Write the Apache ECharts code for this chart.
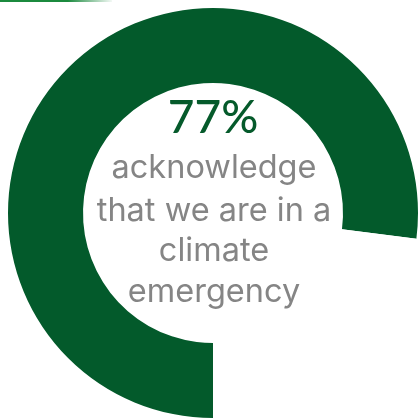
<!DOCTYPE html>
<html>
<head>
<meta charset="utf-8">
<script src="https://cdn.jsdelivr.net/npm/echarts@6/dist/echarts.min.js"></script>
<style>
html,body{margin:0;padding:0;background:#fff;}
#chart{width:420px;height:420px;}
</style>
</head>
<body>
<div id="chart"></div>
<script>
var categories = ['Acknowledge climate emergency', 'Other'];
var values = [77, 23];
var headline = '77%';
var captionLines = ['acknowledge', 'that we are in a', 'climate', 'emergency'];

var chart = echarts.init(document.getElementById('chart'), null, {renderer: 'canvas'});

var captionY = [168, 211, 251, 292];
var graphics = [
  {
    type: 'line',
    shape: {x1: 0, y1: 1, x2: 112, y2: 1},
    style: {
      lineWidth: 2,
      stroke: new echarts.graphic.LinearGradient(0, 0, 1, 0, [
        {offset: 0, color: '#1b8a3e'},
        {offset: 0.6, color: '#1b8a3e'},
        {offset: 1, color: 'rgba(27,138,62,0)'}
      ])
    },
    silent: true
  },
  {
    type: 'text',
    x: 213, y: 118,
    style: {
      text: headline,
      font: '500 46px Lato',
      fill: '#055a2b',
      align: 'center',
      verticalAlign: 'middle'
    },
    z: 10
  }
];
captionLines.forEach(function (t, i) {
  graphics.push({
    type: 'text',
    x: 214, y: captionY[i],
    style: {
      text: t,
      font: '400 32.5px Inter',
      fill: '#858585',
      align: 'center',
      verticalAlign: 'middle'
    },
    z: 10
  });
});

chart.setOption({
  animation: false,
  backgroundColor: '#ffffff',
  graphic: graphics,
  series: [{
    type: 'pie',
    center: [213, 213],
    radius: [130, 205],
    startAngle: -90,
    clockwise: true,
    silent: true,
    label: {show: false},
    labelLine: {show: false},
    itemStyle: {borderWidth: 0},
    data: categories.map(function (c, i) {
      return {
        name: c,
        value: values[i],
        itemStyle: {color: i === 0 ? '#035a2b' : '#ffffff'}
      };
    })
  }]
});
</script>
</body>
</html>
